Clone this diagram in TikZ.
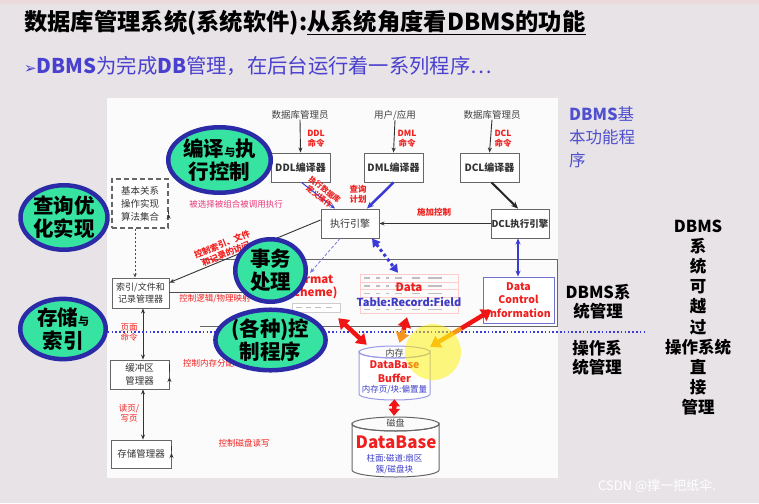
\documentclass[tikz,border=0pt]{standalone}
\usepackage{fontspec}
\setmainfont{Noto Sans CJK SC}
\newfontfamily\dejavu{DejaVu Sans}
\usetikzlibrary{arrows.meta,shapes.geometric,calc}
\newcommand\myfs[2]{\fontsize{#1}{#2}\selectfont}
\definecolor{bg}{HTML}{E7E3E6}
\definecolor{bgtop}{HTML}{EBD9DC}
\definecolor{panel}{HTML}{FBFBFB}
\definecolor{subblue}{HTML}{4A40CF}
\definecolor{lblred}{HTML}{F0201E}
\definecolor{lblpink}{HTML}{E8387A}
\definecolor{ovalfill}{HTML}{37E3A0}
\definecolor{ovalrim}{HTML}{2B2BA8}
\definecolor{lnblue}{HTML}{3A3AD6}
\definecolor{arrred}{HTML}{F01414}
\definecolor{arrorange}{HTML}{F7941D}
\definecolor{cylblue}{HTML}{9A9AE8}
\definecolor{dciblue}{HTML}{7070D0}
\definecolor{txtblue}{HTML}{3C3CC8}
\begin{document}
\begin{tikzpicture}[x=1pt,y=-1pt,
  bx/.style={draw=black!60, line width=0.9pt, fill=white, inner sep=0pt, align=center, text=black!80},
  src/.style={inner sep=0pt, text=black!75, font=\myfs{9.5}{11}},
  oval/.style={ellipse, draw=ovalrim, line width=4.5pt, fill=ovalfill, inner sep=0pt, align=center, font=\bfseries\myfs{20.5}{23}},
  rl/.style={text=lblred, font=\bfseries\myfs{8.5}{10}, align=center, inner sep=0pt},
  ar/.style={-{Stealth[length=5pt,width=4pt]}, line width=0.9pt, draw=black!80},
  dar/.style={{Stealth[length=5pt,width=4pt]}-{Stealth[length=5pt,width=4pt]}, line width=0.9pt, draw=black!80},
  bigred/.style={line width=4.5pt, draw=arrred},
  rtxt/.style={text=black, font=\bfseries\myfs{16.5}{19}, align=center, inner sep=0pt}
]
\useasboundingbox (0,0) rectangle (759,503);
\fill[bg] (0,0) rectangle (759,503);
\fill[bgtop] (0,0) rectangle (759,4);
\fill[panel] (107,98) rectangle (558,478);

% title
\node[anchor=west, inner sep=0pt] (title) at (24,23) {\bfseries\myfs{23.3}{26}数据库管理系统(系统软件):\underline{从系统角度看DBMS的功能}};
\node[anchor=west, inner sep=0pt, text=subblue] (sub) at (24,66) {\myfs{20.3}{23}{\dejavu\myfs{15}{17}➢}{\bfseries DBMS}为完成{\bfseries DB}管理，在后台运行着一系列程序…};

% big data rectangle
\coordinate (bigL1) at (200,259);
\coordinate (bigR1) at (557,259);
\coordinate (bigR2) at (557,326);
\coordinate (bigL2) at (200,326);
\draw[black!60, line width=0.9pt] (bigL1) -- (bigR1) -- (bigR2) -- (bigL2);

% table
\node[inner sep=0pt, minimum width=98, minimum height=39] (tbl) at (409,293.5) {};
\foreach \r in {0,...,4}{
  \draw[red!20, line width=0.3pt] (360,274+\r*7.8) rectangle (458,281.8+\r*7.8);
  \foreach \c/\w in {364/6,376/4,386/3,395/7,412/8,428/14}{
    \draw[black!25, line width=1.4pt] (\c,278+\r*7.8) -- (\c+\w,278+\r*7.8);
  }
}
\node[inner sep=0pt, text=lblred, font=\bfseries\myfs{11.5}{13}] (datat) at (409,287) {Data};
\node[inner sep=0pt, text=txtblue, font=\bfseries\myfs{11}{13}] (trf) at (409,302) {Table:Record:Field};

% format scheme
\node[inner sep=0pt, minimum width=48, minimum height=9, draw=black!20, fill=white] (fmtbox) at (316,307.5) {};
\foreach \c/\w in {296/6,306/5,315/6,326/6}{
  \draw[black!25, line width=1.2pt] (\c,307.5) -- (\c+\w,307.5);
}
\node[inner sep=0pt, text=lblred, font=\bfseries\myfs{11.5}{13}, align=center] (fmt) at (312,287) {Format\\Scheme)};

% DCI box
\node[draw=dciblue, line width=0.9pt, fill=white, minimum width=71, minimum height=46, inner sep=0pt, align=center, text=lblred, font=\bfseries\myfs{10.5}{13.5}] (dci) at (518.5,300) {Data\\Control\\Information};

% sources
\node[src] (s1) at (300,115) {数据库管理员};
\node[src] (s2) at (395,115) {用户/应用};
\node[src] (s3) at (492,115) {数据库管理员};

% boxes
\node[bx, minimum width=59, minimum height=29, font=\bfseries\myfs{10}{12}] (ddl) at (300.5,167.5) {DDL编译器};
\node[bx, minimum width=59, minimum height=29, font=\bfseries\myfs{10}{12}] (dml) at (393.5,167.5) {DML编译器};
\node[bx, minimum width=59, minimum height=29, font=\bfseries\myfs{10}{12}] (dcl) at (489.5,167.5) {DCL编译器};
\node[bx, minimum width=58, minimum height=29, font=\myfs{10}{12}] (exec) at (350,223.5) {执行引擎};
\node[bx, minimum width=58, minimum height=29, font=\bfseries\myfs{9.5}{12}] (dcle) at (520,223.5) {DCL执行引擎};
\node[bx, dashed, dash pattern=on 5pt off 3pt, line width=1.3pt, minimum width=56, minimum height=49, font=\myfs{9.5}{13}] (basic) at (140,203.5) {基本关系\\操作实现\\算法集合};
\node[bx, minimum width=57, minimum height=30, font=\myfs{9}{12}] (idx) at (140.5,293) {索引/文件和\\记录管理器};
\node[bx, minimum width=59, minimum height=29, font=\myfs{9.5}{12.5}] (bufm) at (139.5,374.5) {缓冲区\\管理器};
\node[bx, minimum width=60, minimum height=28, font=\myfs{9.5}{12}] (store) at (141,454) {存储管理器};

% buffer cylinder
\node[inner sep=0pt, minimum width=71, minimum height=54] (buf) at (394.5,373) {};
\filldraw[draw=cylblue, fill=white, line width=1pt] (359,352) -- (359,394) arc[start angle=180, end angle=0, x radius=35.5, y radius=6] -- (430,352) arc[start angle=0, end angle=180, x radius=35.5, y radius=6] -- cycle;
\draw[cylblue, line width=1pt] (394.5,352) ellipse[x radius=35.5, y radius=6];
\node[inner sep=0pt, font=\myfs{9}{10}, text=black!75] (nc) at (394.5,353) {内存};
\node[inner sep=0pt, font=\bfseries\myfs{10.5}{12}, text=lblred] (dbb) at (394.5,365) {DataBase};
\node[inner sep=0pt, font=\bfseries\myfs{10.5}{12}, text=lblred] (bff) at (394.5,378) {Buffer};
\node[inner sep=0pt, font=\myfs{8.5}{10}, text=txtblue] (ncy) at (394.5,390) {内存页/块:偏置量};

% database cylinder
\node[inner sep=0pt, minimum width=87, minimum height=60] (db) at (395.5,447) {};
\filldraw[draw=black!60, fill=white, line width=1pt] (352,424) -- (352,470) arc[start angle=180, end angle=0, x radius=43.5, y radius=7] -- (439,424) arc[start angle=0, end angle=180, x radius=43.5, y radius=7] -- cycle;
\draw[black!60, line width=1pt] (395.5,424) ellipse[x radius=43.5, y radius=7];
\node[inner sep=0pt, font=\myfs{9}{10}, text=black!75] (cp) at (395.5,423) {磁盘};
\node[inner sep=0pt, font=\bfseries\myfs{17}{19}, text=lblred] (dbt) at (396,442) {DataBase};
\node[inner sep=0pt, font=\myfs{8.5}{10}, text=txtblue] (zm) at (394.5,458) {柱面:磁道:扇区};
\node[inner sep=0pt, font=\myfs{8.5}{10}, text=txtblue] (cu) at (394.5,470) {簇/磁盘块};

% connectors
\draw[ar] (s1.south) -- (ddl.north);
\draw[ar] (s2.south) -- (dml.north);
\draw[ar] (s3.south) -- (dcl.north);
\draw[-{Stealth[length=7pt,width=6pt]}, line width=2.5pt, draw=lnblue] (dml.south) -- ($(exec.north)+(17,0)$);
\draw[-{Stealth[length=5pt,width=4pt]}, line width=1pt, draw=lnblue] ($(ddl.south)+(1,0)$) -- ($(exec.north)+(-15,0)$);
\draw[-{Stealth[length=7pt,width=6pt]}, line width=2pt, draw=black!85] ($(dcl.south)+(2,0)$) -- ($(dcle.north)+(-2,0)$);
\draw[ar] (dcle.west) -- (exec.east);
\draw[ar, line width=1.2pt] ($(basic.east)+(0,10.5)$) -- ($(basic.east)+(0,10.5)$ -| exec.west);
\draw[ar] ($(exec.west)+(0,-3.5)$) -- ($(idx.north east)+(0,5)$);
\draw[-{Stealth[length=4pt,width=3.5pt]}, dashed, dash pattern=on 2pt off 2pt, line width=0.9pt, draw=black!70] ($(basic.south)+(-5,0)$) -- ($(idx.north)+(-5.5,0)$);
\coordinate (fmtend) at (290,292);
\draw[black!70, line width=0.9pt] (idx.east |- fmtend) -- (fmtend);
\coordinate (vx) at (143,0);
\draw[dar] (idx.south -| vx) -- (bufm.north -| vx);
\draw[dar] (bufm.south -| vx) -- (store.north -| vx);
\draw[ar, shorten >=5pt] ($(bufm.east)+(0,-2.5)$) -- ($(bufm.east)+(0,-2.5)$ -| buf.west);
\draw[ar, shorten >=2pt] ($(store.east)+(0,-3)$) -- ($(store.east)+(0,-3)$ -| db.west);
\draw[{Stealth[length=6pt,width=5pt]}-{Stealth[length=6pt,width=5pt]}, line width=1.5pt, draw=lnblue] ($(dcle.south)+(-2,0)$) -- ($(dci.north)+(-0.5,0)$);
\coordinate (fmttop) at (310,273);
\draw[-{Stealth[length=5pt,width=4pt]}, dashed, dash pattern=on 3pt off 2pt, line width=0.8pt, draw=lnblue!70] ($(exec.south)+(-10,0)$) -- (fmttop);
\draw[{Triangle[length=8pt,width=9pt]}-{Triangle[length=8pt,width=9pt]}, line width=3pt, dash pattern=on 3pt off 3pt, draw=lnblue] ($(exec.south)+(22,0)$) -- ($(tbl.north)+(-11,-1)$);

% separator
\coordinate (sepL) at (104,332);
\coordinate (sepR) at (646,332);
\draw[lnblue, line width=1.6pt, dash pattern=on 1.6pt off 2.2pt] (sepL) -- (sepR);

% labels
\node[rl] (lddl) at (316,139) {DDL\\命令};
\node[rl] (ldml) at (407,139) {DML\\命令};
\node[rl] (ldcl) at (503,139) {DCL\\命令};
\node[rl] (lcx) at (358,194) {查询\\计划};
\node[rl] (lsj) at (434,212) {施加控制};
\node[rl, text=lblpink, font=\myfs{8.5}{10}] (lbx) at (236,204) {被选择被组合被调用执行};
\node[rl, rotate=22, font=\bfseries\myfs{8.5}{10}] (lsy) at (224,249) {控制索引、文件\\和记录的访问};
\node[rl, rotate=-38, font=\bfseries\myfs{7.5}{9}] (lzx) at (322,193) {执行数据库\\定义操作};
\node[rl, font=\myfs{8.5}{10}] (lwl) at (215,299) {控制逻辑/物理映射};
\node[rl, font=\myfs{8.5}{10}] (lym) at (129,333) {页面\\命令};
\node[rl, font=\myfs{8.5}{10}] (ldy) at (129,413) {读页/\\写页};
\node[rl, font=\myfs{8.5}{10}, anchor=west] (lnc) at (183,363) {控制内存分配、回收及读写操作};
\node[rl, font=\myfs{8.5}{10}] (lcp) at (244,443) {控制磁盘读写};

% ovals
\node[oval, minimum width=90.5, minimum height=65.5] (o1) at (219.5,160) {编译{\myfs{11}{12}与}执\\行控制};
\node[oval, minimum width=81.5, minimum height=64.5] (o2) at (64,217.5) {查询优\\化实现};
\node[oval, minimum width=70.5, minimum height=62.5] (o3) at (270.5,270.5) {事务\\处理};
\node[oval, minimum width=85.5, minimum height=57.5] (o4) at (63,329) {存储{\myfs{11}{12}与}\\索引};
\node[oval, minimum width=90.5, minimum height=59.5] (o5) at (270.5,340) {(各种)控\\制程序};

% red arrows
\draw[bigred, {Triangle[length=10pt,width=13pt]}-{Triangle[length=10pt,width=13pt]}] ($(fmtbox.south east)+(-2,6)$) -- ($(buf.north west)+(8,-1)$);
\coordinate (m1) at (403.5,330);
\draw[bigred, {Triangle[length=10pt,width=13pt]}-] ($(tbl.south)+(-2,4)$) -- (m1);
\draw[bigred, draw=arrorange, -{Triangle[length=10pt,width=13pt]}] (m1) -- ($(buf.north)+(5,-3)$);
\coordinate (m2) at (461,328.5);
\draw[bigred, {Triangle[length=10pt,width=13pt]}-] ($(dci.west)+(9,10)$) -- (m2);
\draw[bigred, draw=arrorange, -{Triangle[length=10pt,width=13pt]}] (m2) -- ($(buf.north east)+(0,1)$);
\draw[bigred, {Triangle[length=7pt,width=11pt]}-{Triangle[length=7pt,width=11pt]}] ($(buf.south)+(0,-1)$) -- ($(db.north)+(-1.5,-1)$);

% glow
\fill[yellow, opacity=0.5] (433,352) circle[radius=28];

% right texts
\node[anchor=north west, inner sep=0pt, text=txtblue!90!white, align=left, font=\myfs{16.5}{23}] (basicfn) at (569,106) {{\bfseries DBMS}基\\本功能程\\序};
\node[rtxt] (dbmsgl) at (598,301.5) {DBMS系\\统管理};
\node[rtxt] (osgl) at (597,357.5) {操作系\\统管理};
\node[rtxt, font=\bfseries\myfs{16.5}{20.1}] (col) at (698,317.5) {DBMS\\系\\统\\可\\越\\过\\操作系统\\直\\接\\管理};
\node[inner sep=0pt, text=white, font=\myfs{13}{15}] (wm) at (657,486) {CSDN @撑一把纸伞.};
\end{tikzpicture}
\end{document}
